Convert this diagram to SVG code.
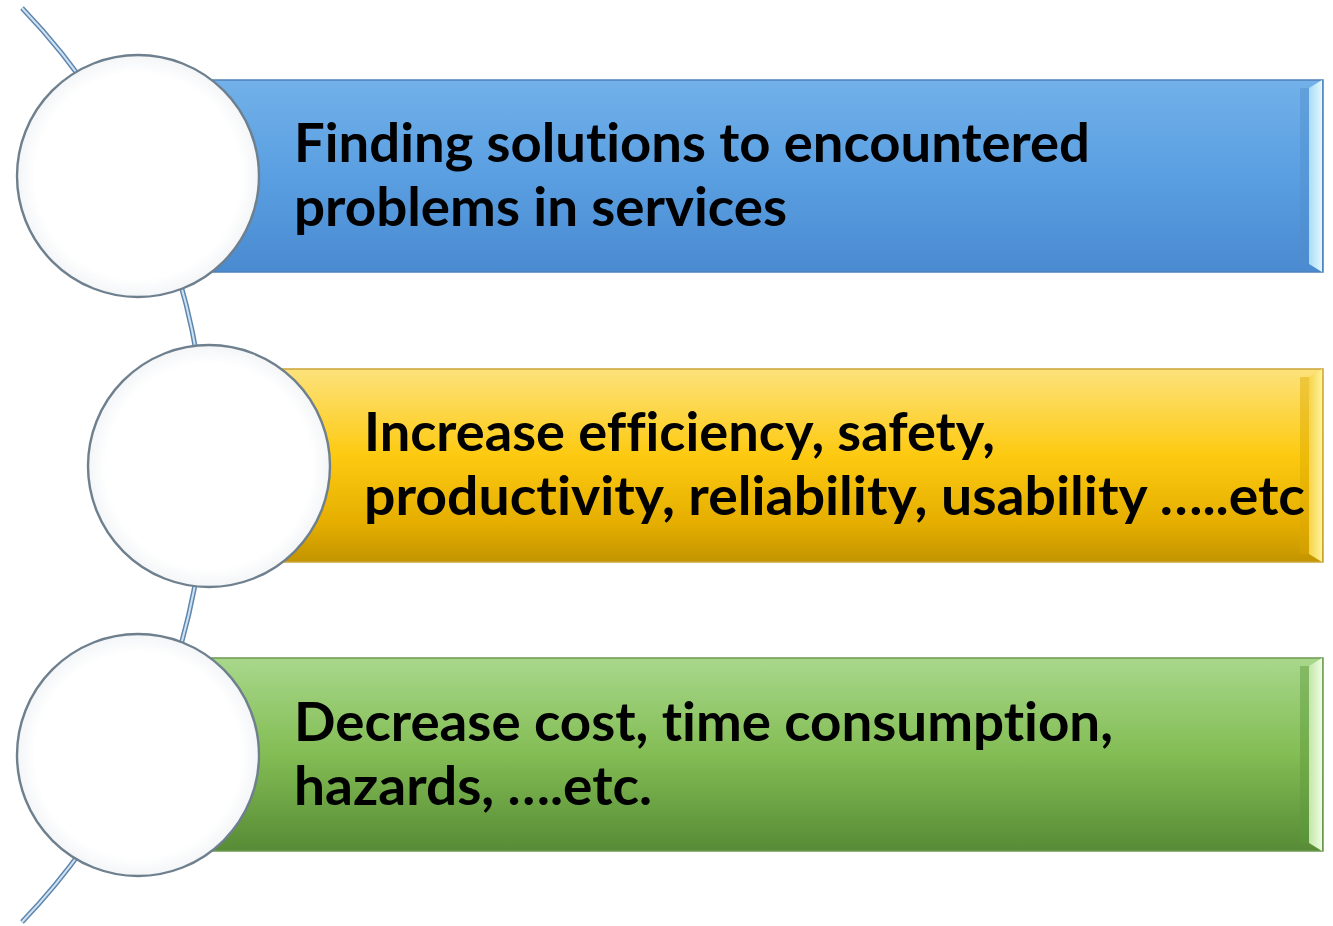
<svg xmlns="http://www.w3.org/2000/svg" width="1333" height="926" viewBox="0 0 1333 926">
  <defs>
    <linearGradient id="gBlue" x1="0" y1="0" x2="0" y2="1">
      <stop offset="0" stop-color="#72b1e9"/>
      <stop offset="0.5" stop-color="#5a9fe2"/>
      <stop offset="1" stop-color="#4a8ad0"/>
    </linearGradient>
    <linearGradient id="gYellow" x1="0" y1="0" x2="0" y2="1">
      <stop offset="0" stop-color="#fde27c"/>
      <stop offset="0.45" stop-color="#fdca10"/>
      <stop offset="0.8" stop-color="#e5ae00"/>
      <stop offset="1" stop-color="#c29400"/>
    </linearGradient>
    <linearGradient id="gGreen" x1="0" y1="0" x2="0" y2="1">
      <stop offset="0" stop-color="#a8d78b"/>
      <stop offset="0.5" stop-color="#83bd54"/>
      <stop offset="1" stop-color="#578b36"/>
    </linearGradient>
    <radialGradient id="gCircle" cx="0.5" cy="0.5" r="0.5">
      <stop offset="0.85" stop-color="#ffffff"/>
      <stop offset="1" stop-color="#f3f5f7"/>
    </radialGradient>
    <linearGradient id="gBevelBlue" x1="0" y1="0" x2="1" y2="0">
      <stop offset="0" stop-color="#a9dcf5"/>
      <stop offset="1" stop-color="#e4f8ff"/>
    </linearGradient>
    <linearGradient id="gBevelYellow" x1="0" y1="0" x2="1" y2="0">
      <stop offset="0" stop-color="#f6d34a"/>
      <stop offset="1" stop-color="#fff39a"/>
    </linearGradient>
    <linearGradient id="gBevelGreen" x1="0" y1="0" x2="1" y2="0">
      <stop offset="0" stop-color="#c2e6a8"/>
      <stop offset="1" stop-color="#effce4"/>
    </linearGradient>
  </defs>
  <style>
    .txt { font-family: "Lato", "Open Sans", "Liberation Sans", sans-serif; font-weight: 700; font-size: 53px; fill: #000000; font-variant-ligatures: none; }
    .circ { fill: url(#gCircle); stroke: #6e7f8e; stroke-width: 2.4; }
    .arcOuter { fill: none; stroke: #5f86ad; stroke-width: 5; }
    .arcInner { fill: none; stroke: #cfe2f3; stroke-width: 2; }
  </style>
  <rect x="0" y="0" width="1333" height="926" fill="#ffffff"/>

  <g id="connectors">
    <path class="arcOuter" d="M22,8 A660,660 0 0 1 22,922"/>
    <path class="arcInner" d="M22,8 A660,660 0 0 1 22,922"/>
  </g>

  <g id="node1">
    <rect x="200" y="80" width="1123" height="192" fill="url(#gBlue)" stroke="#4f80b8" stroke-width="1.5"/>
    <rect x="1300" y="88" width="9" height="176" fill="#4f8fcc" opacity="0.45"/>
    <polygon points="1309,88 1322,80 1322,272 1309,264" fill="url(#gBevelBlue)"/>
    <circle class="circ" cx="138" cy="176" r="121"/>
    <text class="txt" x="294" y="162" textLength="796" lengthAdjust="spacingAndGlyphs">Finding solutions to encountered</text>
    <text class="txt" x="294" y="226" textLength="493" lengthAdjust="spacingAndGlyphs">problems in services</text>
  </g>

  <g id="node2">
    <rect x="270" y="369" width="1053" height="193" fill="url(#gYellow)" stroke="#caa43a" stroke-width="1.5"/>
    <rect x="1300" y="377" width="9" height="177" fill="#d9a800" opacity="0.45"/>
    <polygon points="1309,377 1322,369 1322,562 1309,554" fill="url(#gBevelYellow)"/>
    <circle class="circ" cx="209" cy="466" r="121"/>
    <text class="txt" x="364" y="451" textLength="631" lengthAdjust="spacingAndGlyphs">Increase efficiency, safety,</text>
    <text class="txt" x="364" y="515" textLength="941" lengthAdjust="spacingAndGlyphs">productivity, reliability, usability …..etc</text>
  </g>

  <g id="node3">
    <rect x="200" y="658" width="1123" height="193" fill="url(#gGreen)" stroke="#6c9a52" stroke-width="1.5"/>
    <rect x="1300" y="666" width="9" height="177" fill="#5e9a3c" opacity="0.45"/>
    <polygon points="1309,666 1322,658 1322,851 1309,843" fill="url(#gBevelGreen)"/>
    <circle class="circ" cx="138" cy="755" r="121"/>
    <text class="txt" x="294" y="741" textLength="819" lengthAdjust="spacingAndGlyphs">Decrease cost, time consumption,</text>
    <text class="txt" x="294" y="805" textLength="358" lengthAdjust="spacingAndGlyphs">hazards, ….etc.</text>
  </g>
</svg>
